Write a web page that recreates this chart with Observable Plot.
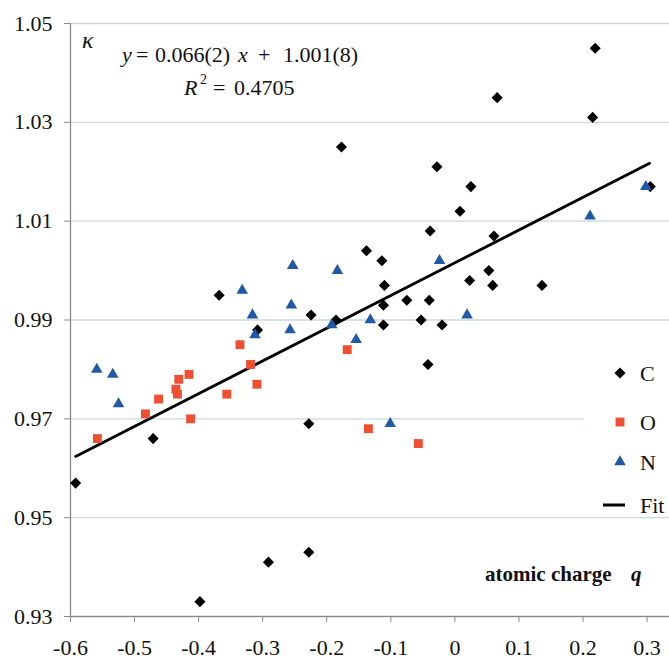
<!DOCTYPE html>
<html><head><meta charset="utf-8">
<script src="https://cdn.jsdelivr.net/npm/d3@7"></script>
<script src="https://cdn.jsdelivr.net/npm/@observablehq/plot@0.6"></script>
<style>body{margin:0;background:#fff} #chart{width:669px;height:659px}</style>
</head><body><div id="chart"></div>
<script>
// C atoms (black diamonds)
const cX = [-0.592,-0.471,-0.398,-0.368,-0.308,-0.291,-0.228,-0.228,-0.2245,-0.1855,-0.177,-0.138,-0.114,-0.110,-0.1115,-0.1115,-0.075,-0.0527,-0.042,-0.040,-0.0386,-0.028,-0.020,0.008,0.023,0.025,0.053,0.059,0.061,0.066,0.136,0.215,0.219,0.305];
const cY = [0.957,0.966,0.933,0.995,0.988,0.941,0.943,0.969,0.991,0.990,1.025,1.004,1.002,0.997,0.993,0.989,0.994,0.990,0.981,0.994,1.008,1.021,0.989,1.012,0.998,1.017,1.000,0.997,1.007,1.035,0.997,1.031,1.045,1.017];
// O atoms (red squares)
const oX = [-0.558,-0.483,-0.4625,-0.4355,-0.433,-0.431,-0.415,-0.4125,-0.356,-0.3355,-0.319,-0.309,-0.168,-0.135,-0.057];
const oY = [0.966,0.971,0.974,0.976,0.975,0.978,0.979,0.970,0.975,0.985,0.981,0.977,0.984,0.968,0.965];
// N atoms (blue triangles)
const nX = [-0.559,-0.534,-0.525,-0.332,-0.316,-0.312,-0.2553,-0.2573,-0.2531,-0.1922,-0.1834,-0.1542,-0.132,-0.101,-0.024,0.019,0.211,0.298];
const nY = [0.980,0.979,0.973,0.996,0.991,0.987,0.993,0.988,1.001,0.989,1.000,0.986,0.990,0.969,1.002,0.991,1.011,1.017];
// Fit line end points
const fitX = [-0.592, 0.304];
const fitY = [0.9624, 1.0217];
// Ticks
const xTicks = [-0.6,-0.5,-0.4,-0.3,-0.2,-0.1,0,0.1,0.2,0.3];
const yTicks = [0.93,0.95,0.97,0.99,1.01,1.03,1.05];
const seriesNames = ["C","O","N","Fit"];

const FONT = '"Liberation Serif","Times New Roman",serif';
const rows = (xs, ys, s) => xs.map((x, i) => ({x, y: ys[i], s}));
const C = rows(cX, cY, "C"), O = rows(oX, oY, "O"), N = rows(nX, nY, "N");
const fit = rows(fitX, fitY, "Fit");
const RED = "#f04e30", BLUE = "#1e5aa8", AX = "#8a8a8a", GRID = "#c8dada";

const plot = Plot.plot({
  width: 669, height: 659,
  marginLeft: 70, marginRight: 0, marginTop: 23, marginBottom: 43,
  style: {fontFamily: FONT, fontSize: "22px", color: "#111", background: "#fff"},
  x: {domain: [-0.6, 0.335]},
  y: {domain: [0.93, 1.05]},
  marks: [
    Plot.ruleY(yTicks.filter(v => v > 0.935), {stroke: GRID, strokeWidth: 1.3}),
    Plot.axisX({ticks: xTicks, tickFormat: d => d === 0 ? "0" : d.toFixed(1), tickSize: 6, tickPadding: 17, stroke: AX, fill: "#111", label: null, fontFamily: FONT, fontSize: 22}),
    Plot.axisY({ticks: yTicks, tickFormat: d => d.toFixed(2), tickSize: 6, tickPadding: 12, stroke: AX, fill: "#111", label: null, fontFamily: FONT, fontSize: 22}),
    Plot.ruleX([-0.6], {stroke: AX, strokeWidth: 1.3}),
    Plot.ruleY([0.93], {stroke: AX, strokeWidth: 1.3}),
    Plot.line(fit, {x: "x", y: "y", stroke: "#000", strokeWidth: 2.8}),
    Plot.dot(C, {x: "x", y: "y", symbol: "diamond2", r: 5, fill: "#000", stroke: "none"}),
    Plot.dot(O, {x: "x", y: "y", symbol: "square", r: 5, fill: RED, stroke: "none"}),
    Plot.dot(N, {x: "x", y: "y", symbol: "triangle", r: 4.3, fill: BLUE, stroke: "none"})
  ]
});
document.getElementById("chart").appendChild(plot);

const svg = d3.select(plot);
const g = svg.append("g").attr("font-family", FONT).attr("fill", "#111").attr("text-anchor", "start");
// kappa
g.append("text").attr("x", 82).attr("y", 48).attr("font-size", 24).attr("font-style", "italic").text("κ");
// equation
const eq = g.append("text").attr("y", 62).attr("font-size", 22);
eq.append("tspan").attr("x", 122).attr("font-style", "italic").text("y");
eq.append("tspan").attr("x", 136).text("=");
eq.append("tspan").attr("x", 155).text("0.066(2)");
eq.append("tspan").attr("x", 238).attr("font-style", "italic").text("x");
eq.append("tspan").attr("x", 258).text("+");
eq.append("tspan").attr("x", 283).text("1.001(8)");
const r2 = g.append("text").attr("y", 95).attr("font-size", 22);
r2.append("tspan").attr("x", 184).attr("font-style", "italic").text("R");
r2.append("tspan").attr("x", 200).attr("y", 84).attr("font-size", 14).text("2");
r2.append("tspan").attr("x", 213).attr("y", 95).text("=");
r2.append("tspan").attr("x", 234).text("0.4705");
// x label
const xl = g.append("text").attr("y", 581).attr("font-size", 21).attr("font-weight", "bold");
xl.append("tspan").attr("x", 485).text("atomic charge");
xl.append("tspan").attr("x", 631).attr("font-style", "italic").text("q");

// legend
const lg = svg.append("g").attr("font-family", FONT).attr("font-size", 22).attr("fill", "#111").attr("text-anchor", "start");
lg.append("rect").attr("x", 584).attr("y", 352).attr("width", 85).attr("height", 162).attr("fill", "#fff");
const ly = [373, 422, 462, 505];
const sym = {C: d3.symbol(d3.symbolDiamond2, Math.PI*25)(), O: d3.symbol(d3.symbolSquare, Math.PI*25)(), N: d3.symbol(d3.symbolTriangle, Math.PI*4.3*4.3)()};
const col = {C: "#000", O: RED, N: BLUE};
seriesNames.forEach((s, i) => {
  if (s === "Fit") {
    lg.append("line").attr("x1", 603).attr("x2", 625).attr("y1", ly[i]).attr("y2", ly[i]).attr("stroke", "#000").attr("stroke-width", 3);
  } else {
    lg.append("path").attr("d", sym[s]).attr("transform", `translate(620,${ly[i]})`).attr("fill", col[s]);
  }
  lg.append("text").attr("x", 640).attr("y", ly[i]).attr("dy", "0.35em").text(s);
});
</script>
</body></html>
